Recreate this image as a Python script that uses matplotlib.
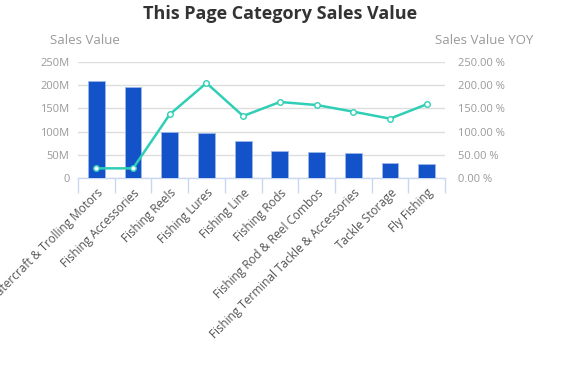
import matplotlib
matplotlib.use("Agg")
import matplotlib.pyplot as plt
from matplotlib.ticker import FuncFormatter, FixedLocator

categories = ["Watercraft & Trolling Motors", "Fishing Accessories", "Fishing Reels",
              "Fishing Lures", "Fishing Line", "Fishing Rods", "Fishing Rod & Reel Combos",
              "Fishing Terminal Tackle & Accessories", "Tackle Storage", "Fly Fishing"]
sales_m = [209, 195.4, 99.1, 97, 79.7, 58.9, 56, 53.9, 32.3, 30.2]
yoy_pct = [20.8, 20.8, 137.2, 204.7, 133.6, 163.8, 157.3, 143.0, 127.9, 158.8]
left_ticks = [0, 50, 100, 150, 200, 250]
right_ticks = [0, 50, 100, 150, 200, 250]

plt.rcParams['font.family'] = ['Open Sans', 'DejaVu Sans']

fig = plt.figure(figsize=(5.68, 3.66), dpi=100)
ax = fig.add_axes([78/568, 1-178/366, 367/568, 116/366])
x = list(range(len(categories)))

ax.bar(x, sales_m, width=0.46, color="#1352c9", edgecolor="#9db8ea", linewidth=0.6, zorder=3)
ax.set_xlim(-0.5, len(categories)-0.5)
ax.set_ylim(0, 250)
ax.yaxis.set_major_locator(FixedLocator(left_ticks))
ax.yaxis.set_major_formatter(FuncFormatter(lambda v, p: "0" if v == 0 else f"{int(v)}M"))
ax.grid(axis='y', color="#dddddd", linewidth=1, zorder=0)
for s in ['top', 'right', 'left']:
    ax.spines[s].set_visible(False)
ax.spines['bottom'].set_color("#c9d7f0")
ax.spines['bottom'].set_linewidth(1)
ax.tick_params(axis='y', length=0, colors="#9a9a9a", labelsize=8, pad=6)
ax.set_xticks(x)
ax.set_xticklabels(categories, rotation=45, ha='right', rotation_mode='anchor',
                   fontsize=8.5, color="#555555")
ax.tick_params(axis='x', which='major', length=0, pad=6)
ax.set_xticks([i - 0.5 for i in range(len(categories)+1)], minor=True)
ax.tick_params(axis='x', which='minor', length=11, color="#c9d7f0", width=1)

ax2 = ax.twinx()
ax2.plot(x, yoy_pct, color="#2fcfb6", linewidth=1.8, marker='o', markersize=4,
         markerfacecolor='white', markeredgecolor="#2fcfb6", markeredgewidth=1, zorder=4)
ax2.set_ylim(0, 250)
ax2.yaxis.set_major_locator(FixedLocator(right_ticks))
ax2.yaxis.set_major_formatter(FuncFormatter(lambda v, p: f"{v:.2f} %"))
for s in ['top', 'right', 'left', 'bottom']:
    ax2.spines[s].set_visible(False)
ax2.tick_params(axis='y', length=0, colors="#9a9a9a", labelsize=8, pad=9)

fig.text(280/568, 1-14/366, "This Page Category Sales Value", ha='center', va='center',
         fontsize=13, fontweight='bold', color="#333333")
fig.text(50/568, 1-40/366, "Sales Value", ha='left', va='center', fontsize=9.5, color="#9a9a9a")
fig.text(533/568, 1-40/366, "Sales Value YOY", ha='right', va='center', fontsize=9.5, color="#9a9a9a")

fig.savefig("out.png", dpi=100)
